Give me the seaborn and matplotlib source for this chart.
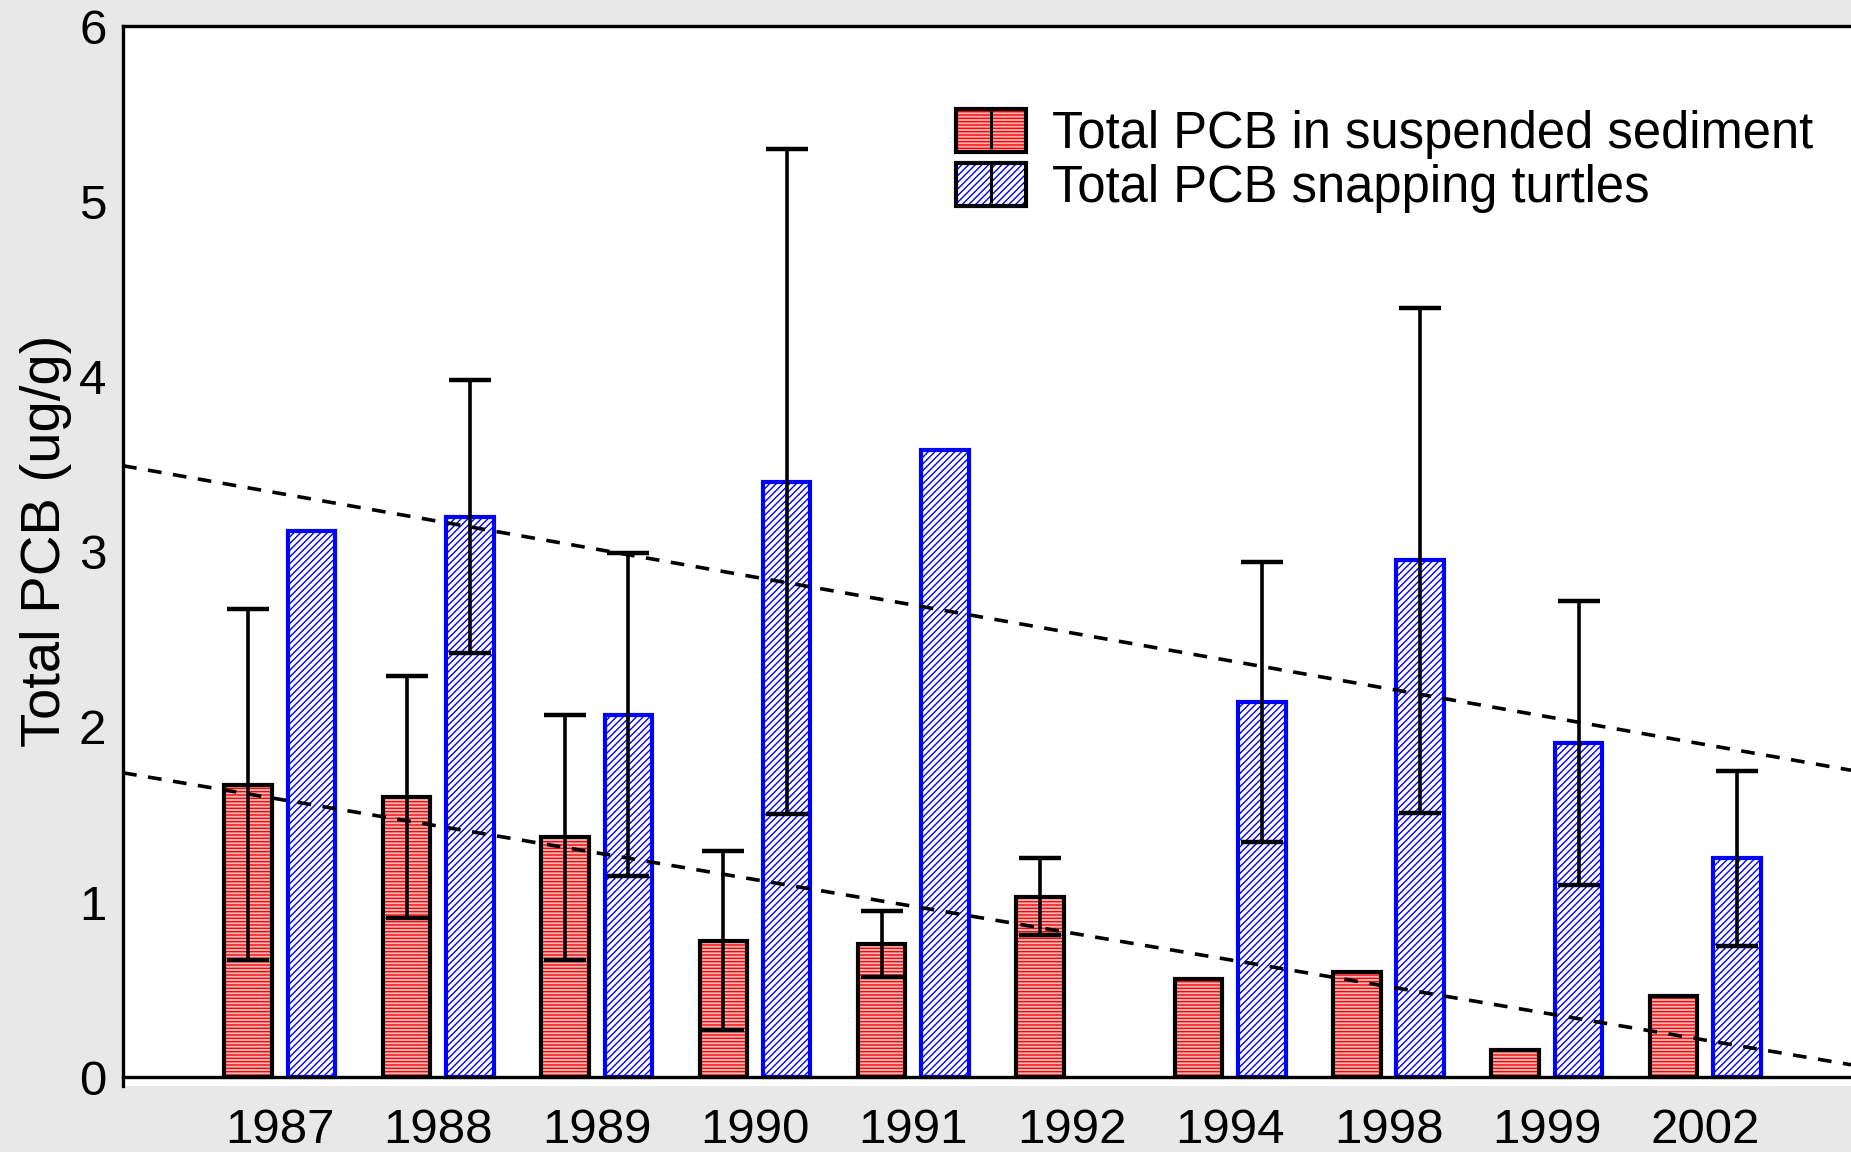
import matplotlib
matplotlib.use('Agg')

import matplotlib.pyplot as plt
import seaborn as sns
import numpy as np
import pandas as pd
from matplotlib.patches import Patch, Rectangle
from matplotlib.lines import Line2D
from matplotlib.legend_handler import HandlerTuple

# ------------------------------------------------------------
# data
# ------------------------------------------------------------
years = ['1987', '1988', '1989', '1990', '1991', '1992', '1994', '1998', '1999', '2002']
sediment_mean = [1.67, 1.60, 1.37, 0.78, 0.76, 1.03, 0.56, 0.60, 0.155, 0.465]
sediment_sd = [1.00, 0.69, 0.70, 0.51, 0.19, 0.22, np.nan, np.nan, np.nan, np.nan]
turtle_mean = [3.12, 3.20, 2.07, 3.40, 3.58, np.nan, 2.14, 2.95, 1.91, 1.25]
turtle_sd = [np.nan, 0.78, 0.92, 1.90, np.nan, np.nan, 0.80, 1.44, 0.81, 0.50]

label_sed = 'Total PCB in suspended sediment'
label_tur = 'Total PCB snapping turtles'

df = pd.DataFrame({
    'Year': years * 2,
    'PCB': sediment_mean + turtle_mean,
    'Series': [label_sed] * len(years) + [label_tur] * len(years),
})

sns.set_style('white')
plt.rcParams['font.family'] = ['Liberation Sans', 'DejaVu Sans']
plt.rcParams['text.color'] = 'black'
RED_FACE = '#ffb0b0'

fig = plt.figure(figsize=(18.51, 11.52), dpi=100, facecolor='#e8e8e8')
ax = fig.add_axes([0.0665, 0.0573, 0.9335, 0.9201])
ax.set_facecolor('white')

sns.barplot(data=df, x='Year', y='PCB', hue='Series', order=years,
            hue_order=[label_sed, label_tur], palette=[RED_FACE, 'white'],
            errorbar=None, width=0.8, gap=0.25, legend=False, ax=ax)

# red bars: red horizontal hatch, black outline
for bar in ax.containers[0]:
    bar.set_hatch('-----')
    bar.set_edgecolor('red')
    bar.set_linewidth(0)
    ax.add_patch(Rectangle(bar.get_xy(), bar.get_width(), bar.get_height(),
                           fill=False, edgecolor='black', linewidth=3.0, zorder=3))

# blue bars: blue diagonal hatch, blue outline
for bar in ax.containers[1]:
    bar.set_hatch('/////')
    bar.set_edgecolor('blue')
    bar.set_linewidth(3.0)

ax.set_xlim(-0.99, 9.92)
ax.set_ylim(-0.05, 6)

# error bars (mean +/- sd)
for cont, means, sds in zip(ax.containers, [sediment_mean, turtle_mean],
                            [sediment_sd, turtle_sd]):
    for bar in cont:
        if np.isnan(bar.get_height()):
            continue
        xc = bar.get_x() + bar.get_width() / 2
        i = int(round(xc))
        if np.isnan(sds[i]):
            continue
        ax.errorbar(xc, means[i], yerr=sds[i], color='black', linewidth=2.6,
                    capsize=15, capthick=3.2, zorder=6)

# linear trend lines over the whole axis
xs = np.arange(len(years))
for vals in [sediment_mean, turtle_mean]:
    v = np.array(vals)
    m = ~np.isnan(v)
    slope, icpt = np.polyfit(xs[m], v[m], 1)
    xl = np.array(ax.get_xlim())
    ax.plot(xl, icpt + slope * xl, color='black', linestyle=(0, (3.8, 3.2)),
            linewidth=2.6, zorder=5)

# axes styling
ax.set_yticks(range(7))
ax.tick_params(axis='both', length=0, labelsize=35.5, labelcolor='black')
ax.tick_params(axis='x', pad=22)
ax.tick_params(axis='y', pad=12)
ax.set_xlabel('')
ax.set_ylabel('Total PCB (ug/g)', fontsize=40.5, color='black')
ax.yaxis.set_label_coords(-0.0295, 0.514)
ax.spines['bottom'].set_position(('data', 0))
ax.spines['right'].set_visible(False)
for s in ['top', 'left', 'bottom']:
    ax.spines[s].set_linewidth(2.4)
    ax.spines[s].set_color('black')

# legend
h_sed = (Patch(facecolor=RED_FACE, hatch='-----', edgecolor='red', linewidth=0),
         Patch(fill=False, edgecolor='black', linewidth=3.0),
         Line2D([], [], color='black', linestyle='none', marker='|',
                markersize=29, markeredgewidth=2.2))
h_tur = (Patch(facecolor='white', hatch='/////', edgecolor='blue', linewidth=0),
         Patch(fill=False, edgecolor='black', linewidth=3.0),
         Line2D([], [], color='black', linestyle='none', marker='|',
                markersize=29, markeredgewidth=2.2))
fig.legend([h_sed, h_tur], [label_sed, label_tur],
           handler_map={tuple: HandlerTuple(ndivide=1, pad=0)},
           loc='upper left', bbox_to_anchor=(0.5166, 0.905),
           bbox_transform=fig.transFigure, frameon=False, fontsize=36.5,
           labelcolor='black',
           borderpad=0, borderaxespad=0, handlelength=1.38, handleheight=0.92,
           handletextpad=0.5, labelspacing=0.08)

fig.savefig('out.png', dpi=100, facecolor=fig.get_facecolor())
